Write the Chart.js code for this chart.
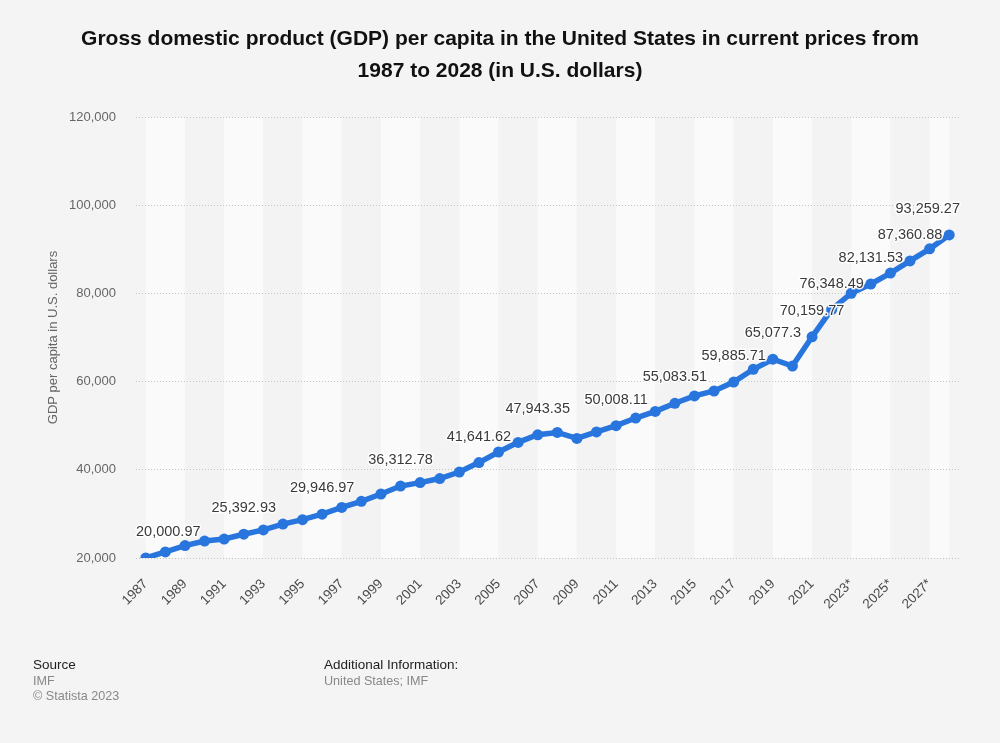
<!DOCTYPE html>
<html>
<head>
<meta charset="utf-8">
<script src="https://cdn.jsdelivr.net/npm/chart.js@4.4.0/dist/chart.umd.min.js"></script>
<style>
  html, body { margin:0; padding:0; background:#f4f4f4; }
  body { width:1000px; height:743px; position:relative; overflow:hidden; font-family:"Liberation Sans", Arial, sans-serif; }
  #wrap { position:absolute; left:0; top:0; width:1000px; height:743px; }
  #title { position:absolute; left:0; top:22px; width:1000px; text-align:center; font-weight:bold; font-size:21px; line-height:32px; color:#111; }
  .ft { position:absolute; white-space:nowrap; }
  .h { font-size:13.5px; color:#222; }
  .g { font-size:12.6px; color:#888; }
</style>
</head>
<body>
<div id="wrap"><canvas id="c" width="1000" height="743"></canvas></div>
<div id="title">Gross domestic product (GDP) per capita in the United States in current prices from<br>1987 to 2028 (in U.S. dollars)</div>
<div class="ft h" style="left:33px;top:657px;">Source</div>
<div class="ft g" style="left:33px;top:674px;">IMF</div>
<div class="ft g" style="left:33px;top:689px;">© Statista 2023</div>
<div class="ft h" style="left:324px;top:657px;">Additional Information:</div>
<div class="ft g" style="left:324px;top:674px;">United States; IMF</div>
<script>
const years = [1987,1988,1989,1990,1991,1992,1993,1994,1995,1996,1997,1998,1999,2000,2001,2002,2003,2004,2005,2006,2007,2008,2009,2010,2011,2012,2013,2014,2015,2016,2017,2018,2019,2020,2021,2022,2023,2024,2025,2026,2027,2028];
const gdpPerCapita = [20000.97,21376,22814,23848,24303,25392.93,26365,27695,28691,29946.97,31459,32854,34515,36312.78,37101,38023,39496,41641.62,44035,46216,47943.35,48471,47102,48586,50008.11,51737,53246,55083.51,56763,57867,59885.71,62794,65077.3,63529,70159.77,76348.49,80035,82131.53,84600,87360.88,90100,93259.27];
const labeledYears = [1987,1992,1996,2000,2004,2007,2011,2014,2017,2019,2021,2022,2024,2026,2028];
const tickYears = [1987,1989,1991,1993,1995,1997,1999,2001,2003,2005,2007,2009,2011,2013,2015,2017,2019,2021,2023,2025,2027];
const tickLabels = ['1987','1989','1991','1993','1995','1997','1999','2001','2003','2005','2007','2009','2011','2013','2015','2017','2019','2021','2023*','2025*','2027*'];
const yTicks = [20000,40000,60000,80000,100000,120000];

const FONT = '"Liberation Sans", Arial, sans-serif';

const bandsPlugin = {
  id: 'bands',
  beforeDraw(chart) {
    const {ctx, chartArea: a, scales: {x}} = chart;
    ctx.save();
    ctx.fillStyle = '#f4f4f4';
    ctx.fillRect(0, 0, chart.width, chart.height);
    const first = years[0], last = years[years.length - 1];
    for (let s = first, k = 0; s < last; s += 2, k++) {
      const e = Math.min(s + 2, last);
      const x0 = x.getPixelForValue(s), x1 = x.getPixelForValue(e);
      ctx.fillStyle = (k % 2 === 0) ? '#fafafa' : '#f3f3f3';
      ctx.fillRect(x0, a.top, x1 - x0, a.bottom - a.top);
    }
    ctx.restore();
  }
};

const yTitlePlugin = {
  id: 'ytitle',
  afterDraw(chart) {
    const {ctx, chartArea: a} = chart;
    ctx.save();
    ctx.translate(53, (a.top + a.bottom) / 2);
    ctx.rotate(-Math.PI / 2);
    ctx.font = '13px ' + FONT;
    ctx.fillStyle = '#666';
    ctx.textAlign = 'center';
    ctx.textBaseline = 'middle';
    ctx.fillText('GDP per capita in U.S. dollars', 0, 0);
    ctx.restore();
  }
};

const labelPlugin = {
  id: 'vlabels',
  afterDatasetsDraw(chart) {
    const {ctx, chartArea: a} = chart;
    const meta = chart.getDatasetMeta(0);
    ctx.save();
    ctx.font = '14.5px ' + FONT;
    ctx.textAlign = 'center';
    ctx.textBaseline = 'middle';
    ctx.lineJoin = 'round';
    labeledYears.forEach(yr => {
      const i = years.indexOf(yr);
      const pt = meta.data[i];
      const txt = gdpPerCapita[i].toLocaleString('en-US', {maximumFractionDigits: 2});
      const w = ctx.measureText(txt).width;
      let cx = Math.max(a.left + w / 2, Math.min(a.right - w / 2, pt.x));
      const cy = pt.y - 26;
      ctx.strokeStyle = 'rgba(255,255,255,0.9)';
      ctx.lineWidth = 3;
      ctx.strokeText(txt, cx, cy);
      ctx.fillStyle = '#3a3a3a';
      ctx.fillText(txt, cx, cy);
    });
    ctx.restore();
  }
};

new Chart(document.getElementById('c'), {
  type: 'line',
  data: {
    datasets: [{
      data: years.map((y, i) => ({x: y, y: gdpPerCapita[i]})),
      borderColor: '#2876dd',
      backgroundColor: '#2876dd',
      borderWidth: 5.5,
      pointRadius: 5.5,
      pointBorderWidth: 0,
      pointBackgroundColor: '#2876dd',
      tension: 0,
      fill: false
    }]
  },
  options: {
    responsive: false,
    animation: false,
    devicePixelRatio: 1,
    layout: { padding: { left: 0, right: 40, top: 117, bottom: 125 } },
    plugins: { legend: { display: false }, tooltip: { enabled: false }, title: { display: false } },
    scales: {
      x: {
        type: 'linear',
        min: 1986.5,
        max: 2028.55,
        afterBuildTicks(scale) { scale.ticks = tickYears.map(v => ({value: v})); },
        afterFit(scale) { scale.height = 60; },
        grid: { display: false },
        border: { display: false },
        ticks: {
          autoSkip: false,
          maxRotation: 45,
          minRotation: 45,
          padding: 10,
          color: '#4a4a4a',
          font: { family: FONT, size: 13.5 },
          callback: (v, i) => tickLabels[i]
        }
      },
      y: {
        min: 20000,
        max: 120000,
        afterBuildTicks(scale) { scale.ticks = yTicks.map(v => ({value: v})); },
        afterFit(scale) { scale.width = 136; },
        grid: { color: '#c4c4c4', lineWidth: 1, drawTicks: false },
        border: { display: false, dash: [1, 2] },
        ticks: {
          padding: 20,
          color: '#666',
          font: { family: FONT, size: 13 },
          callback: v => v.toLocaleString('en-US')
        }
      }
    }
  },
  plugins: [bandsPlugin, yTitlePlugin, labelPlugin]
});
</script>
</body>
</html>
